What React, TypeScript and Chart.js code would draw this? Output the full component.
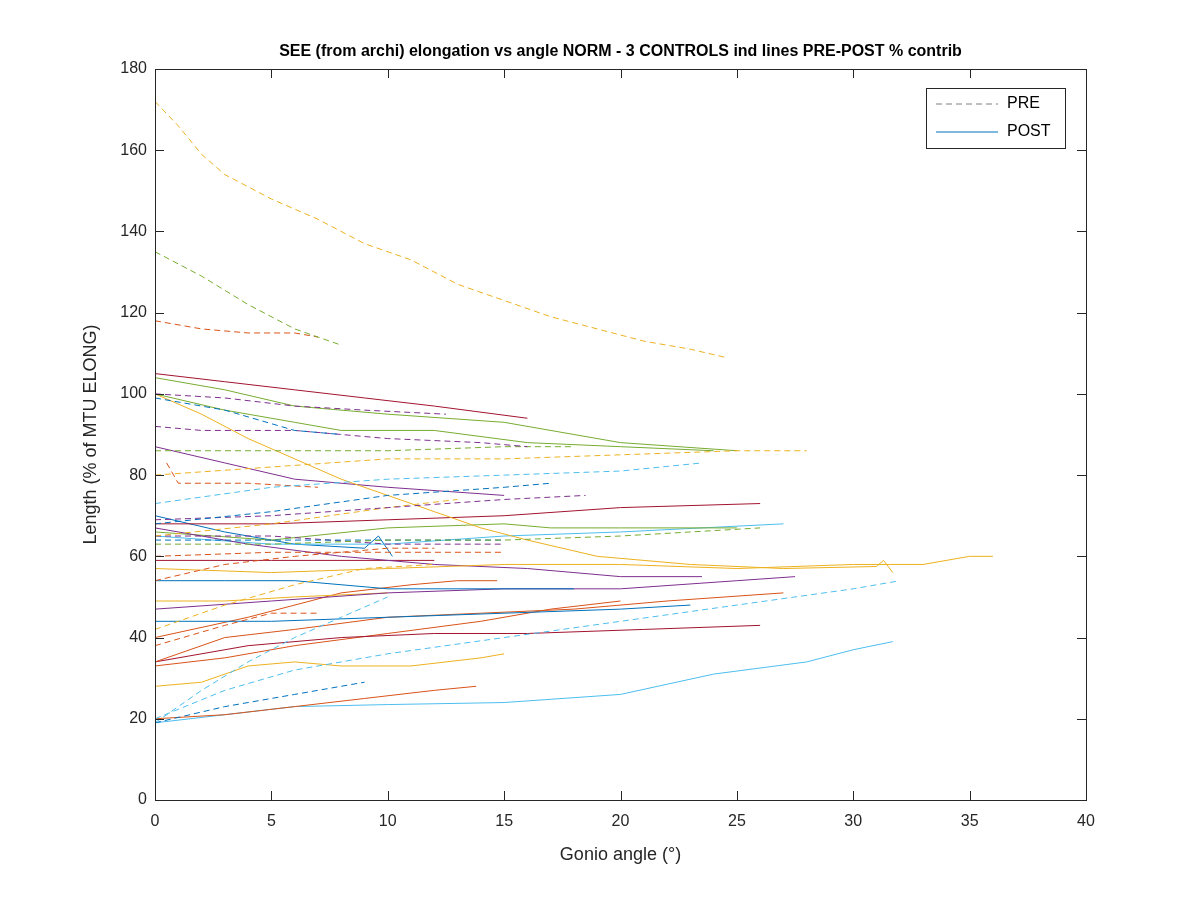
import React, { useEffect, useRef } from "react";
import { Chart, registerables } from "chart.js";
Chart.register(...registerables);

const C = { blue: "#0072BD", orange: "#D95319", yellow: "#EDB120", purple: "#7E2F8E", green: "#77AC30", cyan: "#4DBEEE", red: "#A2142F" };
type Pt = [number, number];

const preLines: [string, Pt[]][] = [
  ["yellow", [[0,172],[1,166],[2,159],[3,154],[5,148],[7,143],[9,137],[11,133],[13,127],[15,123],[17,119],[19,116],[21,113],[23,111],[24.5,109]]],
  ["green", [[0,135],[2,129],[4,122],[6,116],[7.5,113],[8,112]]],
  ["orange", [[0,118],[2,116],[4,115],[6,115],[7,114]]],
  ["purple", [[0,100],[3,99],[6,97],[9,96],[12.5,95]]],
  ["blue", [[0,99],[3,96],[6,91],[8,90]]],
  ["purple", [[0,92],[2,91],[6,91],[10,89],[14,88],[16,87]]],
  ["green", [[0,86],[5,86],[10,86],[15,87],[18,87]]],
  ["yellow", [[0,80],[5,82],[10,84],[15,84],[20,85],[25,86],[28,86]]],
  ["cyan", [[0,73],[5,77],[10,79],[15,80],[20,81],[23.5,83]]],
  ["orange", [[0.5,83],[1,78],[4,78],[7,77]]],
  ["blue", [[0,68],[5,71],[10,75],[15,77],[17,78]]],
  ["purple", [[0,69],[5,70],[10,72],[15,74],[18.5,75]]],
  ["yellow", [[0,65],[5,68],[10,72],[13,74]]],
  ["orange", [[0,60],[5,61],[10,61],[15,61]]],
  ["green", [[0,63],[5,63],[10,64],[15,64],[20,65],[26,67]]],
  ["blue", [[0,64],[5,64],[10,64],[15,64]]],
  ["orange", [[0,54],[3,58],[6,60],[10,62],[12,62]]],
  ["yellow", [[0,42],[3,48],[6,53],[9,57],[12,58]]],
  ["cyan", [[0,19],[2,27],[4,34],[6,40],[8,45],[10,50]]],
  ["cyan", [[0,20],[3,27],[6,32],[10,36],[15,40],[20,44],[25,48],[30,52],[32,54]]],
  ["blue", [[0,19],[3,23],[6,26],[9,29]]],
  ["orange", [[0,38],[3,43],[5,46],[7,46]]],
  ["purple", [[0,65],[5,65],[10,63],[15,63]]],
];

const postLines: [string, Pt[]][] = [
  ["red", [[0,105],[3,103],[6,101],[9,99],[12,97],[16,94]]],
  ["green", [[0,104],[3,101],[6,97],[10,95],[15,93],[20,88],[25,86]]],
  ["green", [[0,100],[3,96],[6,93],[8,91],[12,91],[16,88],[20,87],[24,86]]],
  ["yellow", [[0,100],[2,95],[4,89],[6,84],[8,79],[10,75],[12,71],[14,67],[16,64],[19,60],[23,58],[27,57],[31,57.5],[31.3,59],[31.7,56]]],
  ["yellow", [[0,57],[5,56],[10,57],[15,58],[20,58],[25,57],[30,58],[33,58],[35,60],[36,60]]],
  ["purple", [[0,87],[3,83],[6,79],[10,77],[15,75]]],
  ["purple", [[0,67],[4,63],[8,60],[12,58],[16,57],[20,55],[23.5,55]]],
  ["red", [[0,68],[5,68],[10,69],[15,70],[20,72],[26,73]]],
  ["green", [[0,66],[5,64],[10,67],[15,68],[17,67],[20,67],[25,67]]],
  ["cyan", [[0,65],[5,63],[10,63],[15,65],[20,66],[27,68]]],
  ["blue", [[0,70],[3,66],[6,63],[9,62],[9.6,65],[10.2,60]]],
  ["blue", [[0,54],[3,54],[6,54],[10,52],[15,52],[18,52]]],
  ["blue", [[0,44],[5,44],[10,45],[15,46],[20,47],[23,48]]],
  ["purple", [[0,47],[5,49],[10,51],[15,52],[20,52],[25,54],[27.5,55]]],
  ["yellow", [[0,49],[3,49],[6,50],[10,51]]],
  ["orange", [[0,34],[3,40],[6,42],[10,45],[14,46],[18,47],[22,49],[27,51]]],
  ["red", [[0,34],[4,38],[8,40],[12,41],[16,41],[21,42],[26,43]]],
  ["orange", [[0,33],[3,35],[6,38],[10,41],[14,44],[17,47],[20,49]]],
  ["orange", [[0,40],[4,45],[8,51],[11,53],[13,54],[14.7,54]]],
  ["yellow", [[0,28],[2,29],[4,33],[6,34],[8,33],[11,33],[14,35],[15,36]]],
  ["orange", [[0,20],[3,21],[6,23],[9,25],[12,27],[13.8,28]]],
  ["cyan", [[0,19],[3,21],[6,23],[10,23.5],[15,24],[20,26],[24,31],[28,34],[30,37],[31.7,39]]],
  ["red", [[0,59],[5,59],[10,59],[12,59]]],
];

const overlay = {
  id: "overlay",
  afterDraw(chart: any) {
    const { ctx, chartArea: a, scales } = chart;
    ctx.save();
    ctx.strokeStyle = "#262626"; ctx.lineWidth = 1;
    ctx.strokeRect(a.left + 0.5, a.top + 0.5, a.right - a.left, a.bottom - a.top);
    // inward ticks
    ctx.beginPath();
    scales.x.ticks.forEach((t: any) => {
      const px = Math.round(scales.x.getPixelForValue(t.value)) + 0.5;
      ctx.moveTo(px, a.bottom); ctx.lineTo(px, a.bottom - 9);
      ctx.moveTo(px, a.top); ctx.lineTo(px, a.top + 9);
    });
    scales.y.ticks.forEach((t: any) => {
      const py = Math.round(scales.y.getPixelForValue(t.value)) + 0.5;
      ctx.moveTo(a.left, py); ctx.lineTo(a.left + 9, py);
      ctx.moveTo(a.right, py); ctx.lineTo(a.right - 9, py);
    });
    ctx.stroke();
    ctx.fillStyle = "#000";
    ctx.font = "bold 16px Arial, 'Liberation Sans'";
    ctx.textAlign = "center"; ctx.textBaseline = "middle";
    ctx.fillText("SEE (from archi) elongation vs angle NORM - 3 CONTROLS ind lines PRE-POST % contrib", (a.left + a.right) / 2, 52);
    const lx = 926, ly = 88, lw = 139, lh = 60;
    ctx.fillStyle = "#fff"; ctx.fillRect(lx, ly, lw, lh);
    ctx.strokeStyle = "#262626"; ctx.strokeRect(lx + 0.5, ly + 0.5, lw, lh);
    ctx.strokeStyle = "#7f7f7f"; ctx.setLineDash([6, 4]);
    ctx.beginPath(); ctx.moveTo(936, 104); ctx.lineTo(998, 104); ctx.stroke();
    ctx.setLineDash([]); ctx.strokeStyle = C.blue;
    ctx.beginPath(); ctx.moveTo(936, 132); ctx.lineTo(998, 132); ctx.stroke();
    ctx.fillStyle = "#000"; ctx.font = "16px Arial, 'Liberation Sans'"; ctx.textAlign = "left";
    ctx.fillText("PRE", 1007, 104); ctx.fillText("POST", 1007, 132);
    ctx.restore();
  },
};

export default function App() {
  const ref = useRef<HTMLCanvasElement>(null);
  useEffect(() => {
    const mk = (l: [string, Pt[]], dash: boolean) => ({
      data: l[1].map(([x, y]) => ({ x, y })),
      borderColor: (C as any)[l[0]],
      borderWidth: 1,
      borderDash: dash ? [6, 4] : [],
      pointRadius: 0,
      showLine: true,
      fill: false,
    });
    const tickFont = { family: "Arial, 'Liberation Sans'", size: 16 };
    const chart = new Chart(ref.current!, {
      type: "scatter",
      data: { datasets: [...preLines.map(l => mk(l, true)), ...postLines.map(l => mk(l, false))] },
      options: {
        animation: false, responsive: false,
        layout: { padding: { top: 69, right: 114, bottom: 34, left: 80 } },
        plugins: { legend: { display: false }, tooltip: { enabled: false } },
        scales: {
          x: {
            type: "linear", min: 0, max: 40,
            ticks: { stepSize: 5, color: "#262626", font: tickFont, maxRotation: 0, padding: 12 },
            grid: { display: false, tickLength: 0 },
            border: { color: "#262626" },
            title: { display: true, text: "Gonio angle (°)", color: "#262626", font: { ...tickFont, size: 18 }, padding: 0 },
            afterFit: (s: any) => { s.height = 66; },
          },
          y: {
            min: 0, max: 180,
            ticks: { stepSize: 20, color: "#262626", font: tickFont, padding: 8 },
            grid: { display: false, tickLength: 0 },
            border: { color: "#262626" },
            title: { display: true, text: "Length (% of MTU ELONG)", color: "#262626", font: { ...tickFont, size: 18 }, padding: 0 },
            afterFit: (s: any) => { s.width = 75; },
          },
        },
      },
      plugins: [overlay],
    } as any);
    return () => chart.destroy();
  }, []);
  return <canvas ref={ref} width={1200} height={900} style={{ display: "block", margin: "-8px" }} />;
}
